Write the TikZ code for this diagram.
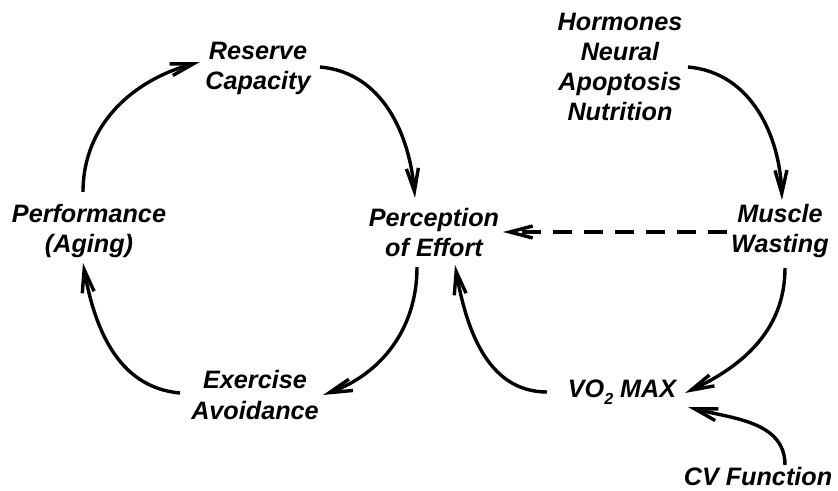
\documentclass[tikz,border=0pt]{standalone}
\usepackage{fontspec}
\setmainfont{Liberation Sans}
\usetikzlibrary{arrows.meta}
\begin{document}
\begin{tikzpicture}[x=1pt,y=1pt,
  lbl/.style={align=center,inner sep=0pt,font=\fontsize{25.2}{30}\selectfont\bfseries\itshape},
  arr/.style={line width=3.4pt,-{Straight Barb[length=23pt,width=12pt]}},
  dasharr/.style={arr,dash pattern=on 19pt off 12pt}]
\useasboundingbox (0,0) rectangle (838,490);
% nodes
\node[lbl] (rc) at (258,422) {Reserve\\Capacity};
\node[lbl] (pe) at (434,258) {Perception\\of Effort};
\node[lbl] (pa) at (89,259) {Performance\\(Aging)};
\node[lbl] (ea) at (255,95) {Exercise\\Avoidance};
\node[lbl] (hn) at (620,423) {Hormones\\Neural\\Apoptosis\\Nutrition};
\node[lbl] (mw) at (780,259) {Muscle\\Wasting};
\node[lbl,anchor=base] (vo) at (622,92) {VO\raisebox{-7pt}{\fontsize{16}{16}\selectfont 2} MAX};
\node[lbl,anchor=base] (cv) at (758,5) {CV Function};
% connectors
\draw[arr] ([shift={(62,1)}]rc.center) to[out=-5,in=95] ([shift={(-19,34)}]pe.center);
\draw[arr] ([shift={(-17,-35)}]pe.center) to[out=-90,in=20] ([shift={(68,0)}]ea.center);
\draw[arr] ([shift={(-75,2)}]ea.center) to[out=175,in=-80] ([shift={(-6,-32)}]pa.center);
\draw[arr] ([shift={(-6,39)}]pa.center) to[out=90,in=195] ([shift={(-58,6)}]rc.center);
\draw[arr] ([shift={(68,0)}]hn.center) to[out=-5,in=92] ([shift={(2,31)}]mw.center);
\draw[arr] ([shift={(5,-37)}]mw.center) to[out=-90,in=25] ([shift={(63,5)}]vo.base);
\draw[arr] ([shift={(-75,6)}]vo.base) to[out=180,in=-80] ([shift={(21,-33)}]pe.center);
\draw[arr] ([shift={(27,20)}]cv.base) to[out=90,in=-15] ([shift={(66,-9)}]vo.base);
\draw[dasharr] ([shift={(-53,-1)}]mw.center) -- ([shift={(69,0)}]pe.center);
\end{tikzpicture}
\end{document}
